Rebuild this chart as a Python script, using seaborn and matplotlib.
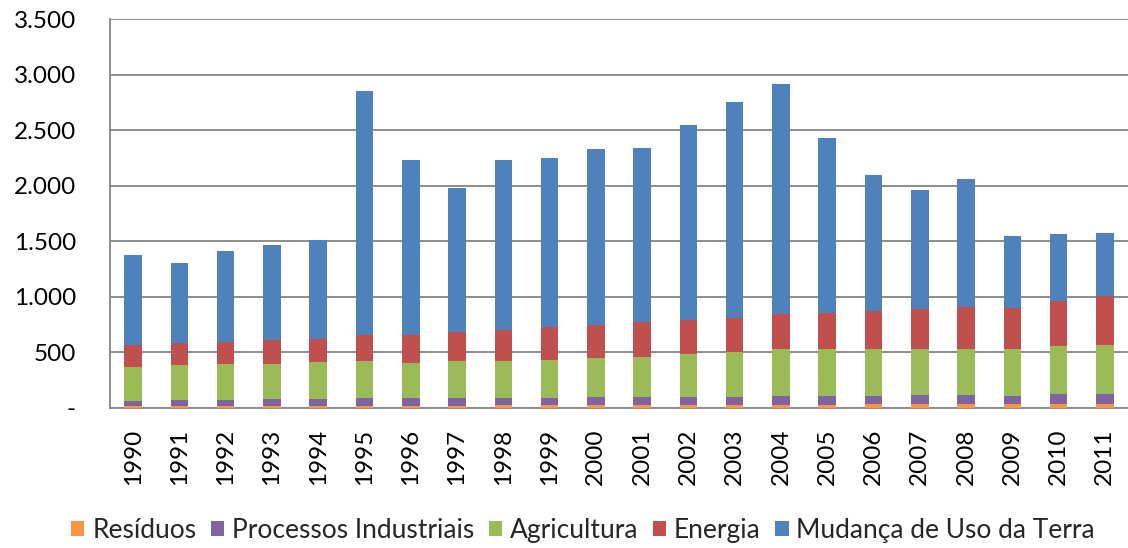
import matplotlib
matplotlib.use("Agg")
import matplotlib.pyplot as plt
import seaborn as sns
import pandas as pd
import numpy as np
from matplotlib.ticker import FuncFormatter, FixedLocator
from matplotlib.patches import Patch

years = [str(y) for y in range(1990, 2012)]
residuos = [15, 15, 21, 21, 21, 21, 21, 21, 27, 27, 27, 27, 27, 27, 27, 27, 36, 36, 36, 36, 36, 36]
processos = [48, 57, 51, 57, 57, 66, 66, 66, 60, 60, 69, 69, 75, 75, 81, 81, 72, 81, 81, 72, 87, 87]
agricultura = [310, 316, 322, 319, 334, 337, 316, 334, 340, 346, 352, 359, 380, 404, 419, 419, 419, 413, 413, 422, 434, 446]
energia = [196, 199, 202, 214, 211, 232, 253, 265, 277, 292, 301, 315, 307, 307, 319, 325, 346, 358, 382, 367, 409, 439]
mudanca = [811, 718, 820, 856, 886, 2194, 1577, 1296, 1529, 1520, 1577, 1568, 1756, 1939, 2070, 1573, 1220, 1076, 1145, 651, 600, 570]

series_names = ["Resíduos", "Processos Industriais", "Agricultura", "Energia", "Mudança de Uso da Terra"]
colors = ["#F79646", "#8064A2", "#9BBB59", "#C0504D", "#4F81BD"]

df = pd.DataFrame({
    "year": years,
    series_names[0]: residuos,
    series_names[1]: processos,
    series_names[2]: agricultura,
    series_names[3]: energia,
    series_names[4]: mudanca,
})

sns.set_style("white")
plt.rcParams["font.family"] = ["Lato", "DejaVu Sans"]

fig = plt.figure(figsize=(11.28, 5.48), dpi=100)
ax = fig.add_axes([110 / 1128, 1 - 408 / 548, 1 - 110 / 1128, (408 - 19) / 548])

# cumulative stacks drawn from top down
cum = df[series_names].cumsum(axis=1)
for name, col in reversed(list(zip(series_names, colors))):
    sns.barplot(x=df["year"], y=cum[name], color=col, width=0.38, ax=ax,
                saturation=1, edgecolor="none", linewidth=0, zorder=3)

ax.set_ylim(0, 3500)
ax.set_xlim(-0.5, 21.44)
ax.set_xlabel("")
ax.set_ylabel("")

ax.yaxis.set_major_locator(FixedLocator(np.arange(0, 3501, 500)))
ax.yaxis.set_major_formatter(FuncFormatter(lambda v, p: "-" if v == 0 else f"{int(v):,}".replace(",", ".")))
ax.grid(axis="y", color="#8C8C8C", linewidth=1.4, zorder=0)
ax.set_axisbelow(True)

for s in ["top", "right"]:
    ax.spines[s].set_visible(False)
for s in ["left", "bottom"]:
    ax.spines[s].set_color("#8C8C8C")
    ax.spines[s].set_linewidth(1.4)

ax.tick_params(axis="y", which="major", length=6.5, width=1.4, color="#8C8C8C",
               direction="out", labelsize=17.5, labelcolor="black", pad=18)
ax.set_xticks(range(len(years)))
ax.set_xticklabels(years, rotation=90, fontsize=17.5)
ax.tick_params(axis="x", which="major", length=0, pad=15, labelcolor="black")
ax.set_xticks(np.arange(-0.5, len(years), 1.0), minor=True)
ax.tick_params(axis="x", which="minor", length=6.5, width=1.4, color="#8C8C8C", direction="out")

handles = [Patch(facecolor=c, edgecolor="none", label=n) for n, c in zip(series_names, colors)]
fig.legend(handles=handles, loc="center", bbox_to_anchor=(0.517, 0.032), ncol=5,
           frameon=False, fontsize=19, handlelength=0.5, handleheight=0.5,
           handletextpad=0.3, columnspacing=0.55, borderaxespad=0)

fig.savefig("out.png", dpi=100)
